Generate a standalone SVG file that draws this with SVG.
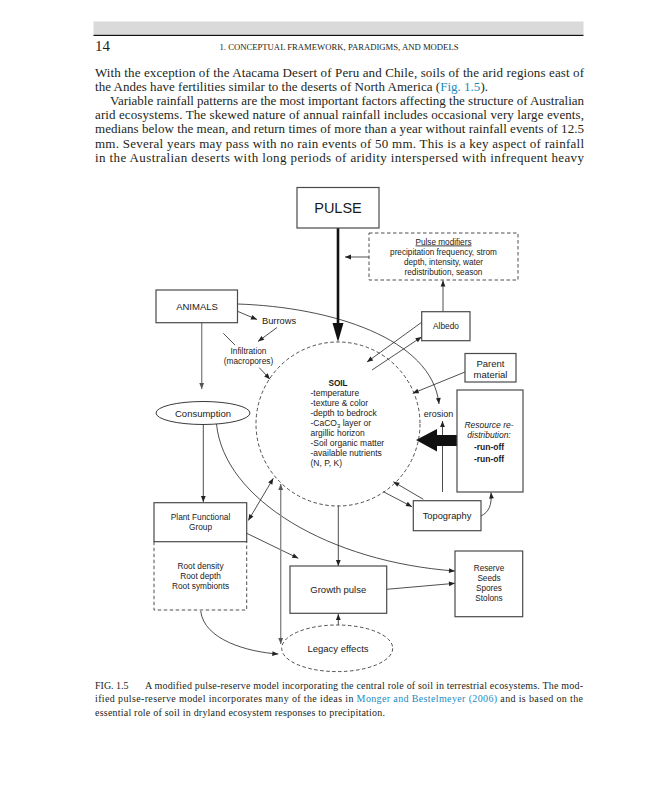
<svg xmlns="http://www.w3.org/2000/svg" width="647" height="800" viewBox="0 0 647 800">
<style>
.serif{font-family:"Liberation Serif","Times New Roman",serif;fill:#231f20}
.link{fill:#1b8bbf}
.t{font-family:"Liberation Sans",Arial,sans-serif;fill:#1a1a1a;text-anchor:middle}
.box{fill:#fff;stroke:#4a4a4a;stroke-width:1.2}
.dash{fill:none;stroke:#3a3a3a;stroke-width:0.9;stroke-dasharray:3.5 2.5}
.ln{fill:none;stroke:#222;stroke-width:0.8}
.gl{fill:none;stroke:#8a8a8a;stroke-width:1.4}
</style>
<defs>
<marker id="ah" viewBox="0 0 10 10" refX="10" refY="5" markerWidth="7" markerHeight="6" orient="auto-start-reverse" markerUnits="userSpaceOnUse"><path d="M0,1 L10,5 L0,9 z" fill="#222"/></marker>
<marker id="ahg" viewBox="0 0 10 10" refX="10" refY="5" markerWidth="7" markerHeight="6" orient="auto-start-reverse" markerUnits="userSpaceOnUse"><path d="M0,1 L10,5 L0,9 z" fill="#555"/></marker>
</defs>
<rect width="647" height="800" fill="#fff"/>

<!-- page header -->
<g id="header">
<rect x="93.5" y="21.5" width="490" height="13" fill="#dadada"/>
<line x1="93.5" y1="35.3" x2="583.5" y2="35.3" stroke="#111" stroke-width="1.3"/>
<text class="serif" x="95" y="51" font-size="15">14</text>
<text class="serif" x="219.5" y="50" font-size="8.5" textLength="239" lengthAdjust="spacingAndGlyphs">1. CONCEPTUAL FRAMEWORK, PARADIGMS, AND MODELS</text>
</g>

<g id="body-text" font-size="13">
<text class="serif" x="95" y="76.5" textLength="489" lengthAdjust="spacing">With the exception of the Atacama Desert of Peru and Chile, soils of the arid regions east of</text>
<text class="serif" x="95" y="90.7" textLength="393" lengthAdjust="spacing">the Andes have fertilities similar to the deserts of North America (<tspan class="link">Fig. 1.5</tspan>).</text>
<text class="serif" x="110" y="104.9" textLength="474" lengthAdjust="spacing">Variable rainfall patterns are the most important factors affecting the structure of Australian</text>
<text class="serif" x="95" y="119.1" textLength="489" lengthAdjust="spacing">arid ecosystems. The skewed nature of annual rainfall includes occasional very large events,</text>
<text class="serif" x="95" y="133.3" textLength="489" lengthAdjust="spacing">medians below the mean, and return times of more than a year without rainfall events of 12.5</text>
<text class="serif" x="95" y="147.5" textLength="489" lengthAdjust="spacing">mm. Several years may pass with no rain events of 50 mm. This is a key aspect of rainfall</text>
<text class="serif" x="95" y="161.7" textLength="489" lengthAdjust="spacing">in the Australian deserts with long periods of aridity interspersed with infrequent heavy</text>
</g>

<!-- connectors -->
<g id="connectors">
<line x1="338" y1="228" x2="338" y2="325" stroke="#111" stroke-width="2.6"/>
<polygon points="332.5,323 343.5,323 338,342" fill="#111"/>
<line class="ln" x1="369" y1="257" x2="345" y2="257" marker-end="url(#ah)"/>
<line class="ln" x1="443" y1="311.5" x2="443" y2="280.5" marker-end="url(#ah)"/>
<line class="ln" x1="422" y1="322" x2="367" y2="362" marker-end="url(#ah)"/>
<line class="ln" x1="372" y1="370" x2="421.5" y2="337" marker-end="url(#ah)"/>
<line class="ln" x1="465" y1="372" x2="412.7" y2="393.3" marker-end="url(#ah)"/>
<path class="ln" d="M237.5,304 C330,307 432,338 439,404" marker-end="url(#ah)"/>
<line class="ln" x1="238" y1="311.5" x2="257" y2="319.5" marker-end="url(#ah)"/>
<line class="ln" x1="277" y1="327.5" x2="258" y2="341.5" marker-end="url(#ah)"/>
<line class="ln" x1="223.3" y1="333.3" x2="235" y2="345"/>
<line class="ln" x1="259.3" y1="367.7" x2="270" y2="379.3" marker-end="url(#ah)"/>
<line class="gl" x1="201.7" y1="322.7" x2="201.7" y2="389" stroke="#666" marker-end="url(#ahg)"/>
<line class="ln" x1="203.3" y1="424.5" x2="203.3" y2="502" marker-end="url(#ah)"/>
<path class="ln" d="M216.5,424 C224,500 330,562 455,571" marker-end="url(#ah)"/>
<line class="ln" x1="248.3" y1="520.5" x2="273.3" y2="478.3" marker-start="url(#ah)" marker-end="url(#ah)"/>
<line class="ln" x1="246.7" y1="533.3" x2="298.3" y2="558.3" marker-end="url(#ah)"/>
<line class="gl" x1="280.7" y1="484" x2="280.7" y2="644" marker-start="url(#ahg)" marker-end="url(#ahg)"/>
<path class="ln" d="M200.7,611 C204,640 248,652 278.3,654" marker-end="url(#ah)"/>
<line class="ln" x1="338.3" y1="505.5" x2="338.3" y2="566" marker-end="url(#ah)"/>
<line class="ln" x1="386.7" y1="589.3" x2="455" y2="583.3" marker-end="url(#ah)"/>
<line class="ln" x1="338.3" y1="625" x2="338.3" y2="614" marker-end="url(#ah)"/>
<line class="ln" x1="442.5" y1="492" x2="442.5" y2="421" marker-end="url(#ah)"/>
<line class="ln" x1="423.3" y1="499.3" x2="393.3" y2="481.7" marker-end="url(#ah)"/>
<line class="ln" x1="383.3" y1="491.7" x2="412" y2="506.7" marker-end="url(#ah)"/>
<path class="ln" d="M481,516 C489,512 492,505 491,492.5" marker-end="url(#ah)"/>
<polygon points="416,440 437,429 437,435 457,435 457,446 437,446 437,451.5" fill="#111"/>
</g>

<g id="pulse">
<rect class="box" x="297" y="187.5" width="82" height="40.5"/>
<text class="t" x="338" y="213" font-size="14.5">PULSE</text>
</g>

<g id="pulse-modifiers">
<rect class="dash" x="369" y="233" width="149" height="47"/>
<text class="t" x="443.5" y="244.5" font-size="8.2" text-decoration="underline">Pulse modifiers</text>
<text class="t" x="443.5" y="255" font-size="8.2">precipitation frequency, strom</text>
<text class="t" x="443.5" y="265" font-size="8.2">depth, intensity, water</text>
<text class="t" x="443.5" y="275" font-size="8.2">redistribution, season</text>
</g>

<g id="animals">
<rect class="box" x="156" y="290" width="81.5" height="32.7"/>
<text class="t" x="197" y="309.5" font-size="9.5">ANIMALS</text>
</g>

<g id="burrows">
<text class="t" x="279" y="323.5" font-size="9.3">Burrows</text>
</g>

<g id="infiltration">
<text class="t" x="248.5" y="354" font-size="8.3">Infiltration</text>
<text class="t" x="248.5" y="364" font-size="8.3">(macropores)</text>
</g>

<g id="albedo">
<rect class="box" x="421.7" y="311.7" width="48.3" height="29"/>
<text class="t" x="446" y="329" font-size="8.3">Albedo</text>
</g>

<g id="parent-material">
<rect class="box" x="465" y="353.5" width="51" height="28.5"/>
<text class="t" x="490.5" y="367" font-size="9.5">Parent</text>
<text class="t" x="490.5" y="378" font-size="9.5">material</text>
</g>

<g id="soil">
<circle class="dash" cx="338" cy="424" r="82"/>
<text class="t" x="338" y="386" font-size="8.2" font-weight="bold">SOIL</text>
<g font-size="8.5">
<text class="t" x="310.5" y="396.3" style="text-anchor:start">-temperature</text>
<text class="t" x="310.5" y="406.3" style="text-anchor:start">-texture &amp; color</text>
<text class="t" x="310.5" y="416.3" style="text-anchor:start">-depth to bedrock</text>
<text class="t" x="310.5" y="426.3" style="text-anchor:start">-CaCO<tspan font-size="6" dy="2">3</tspan><tspan dy="-2"> layer or</tspan></text>
<text class="t" x="310.5" y="436.3" style="text-anchor:start">argillic horizon</text>
<text class="t" x="310.5" y="446.3" style="text-anchor:start">-Soil organic matter</text>
<text class="t" x="310.5" y="456.3" style="text-anchor:start">-available nutrients</text>
<text class="t" x="310.5" y="466.3" style="text-anchor:start">(N, P, K)</text>
</g>
</g>

<g id="erosion">
<text class="t" x="438.5" y="416.5" font-size="9">erosion</text>
</g>

<g id="resource">
<rect class="box" x="457" y="390" width="66" height="102"/>
<text class="t" x="489" y="428" font-size="8.5" font-style="italic">Resource re-</text>
<text class="t" x="489" y="438" font-size="8.5" font-style="italic">distribution:</text>
<text class="t" x="489" y="450" font-size="8.5" font-weight="bold">-run-off</text>
<text class="t" x="489" y="462" font-size="8.5" font-weight="bold">-run-off</text>
</g>

<g id="consumption">
<ellipse cx="203" cy="413" rx="47" ry="11.5" fill="#fff" stroke="#3a3a3a" stroke-width="1"/>
<text class="t" x="203" y="416.5" font-size="9.5">Consumption</text>
</g>

<g id="topography">
<rect class="box" x="413.3" y="500.7" width="67.7" height="30"/>
<text class="t" x="447" y="519" font-size="9.3">Topography</text>
</g>

<g id="plant-functional-group">
<rect class="box" x="154" y="502.7" width="92.7" height="39"/>
<text class="t" x="200.5" y="519.5" font-size="8.3">Plant Functional</text>
<text class="t" x="200.5" y="529.5" font-size="8.3">Group</text>
</g>

<g id="root">
<path class="dash" d="M154,541.7 V610 H246.7 V541.7"/>
<text class="t" x="200.5" y="569" font-size="8.3">Root density</text>
<text class="t" x="200.5" y="579" font-size="8.3">Root depth</text>
<text class="t" x="200.5" y="589" font-size="8.3">Root symbionts</text>
</g>

<g id="growth-pulse">
<rect class="box" x="290" y="566" width="96.7" height="47.3"/>
<text class="t" x="338.3" y="593" font-size="9.5">Growth pulse</text>
</g>

<g id="reserve">
<rect class="box" x="455" y="551" width="67.7" height="65.7"/>
<text class="t" x="489" y="571" font-size="8.2">Reserve</text>
<text class="t" x="489" y="581" font-size="8.2">Seeds</text>
<text class="t" x="489" y="591" font-size="8.2">Spores</text>
<text class="t" x="489" y="601" font-size="8.2">Stolons</text>
</g>

<g id="legacy-effects">
<ellipse class="dash" cx="337.2" cy="648.3" rx="55.5" ry="23.3"/>
<text class="t" x="338" y="651.5" font-size="9.5">Legacy effects</text>
</g>

<g id="caption" font-size="10">
<text class="serif" x="95" y="689">FIG. 1.5</text>
<text class="serif" x="145" y="689" textLength="438" lengthAdjust="spacing">A modified pulse-reserve model incorporating the central role of soil in terrestrial ecosystems. The mod-</text>
<text class="serif" x="95" y="702.3" textLength="488" lengthAdjust="spacing">ified pulse-reserve model incorporates many of the ideas in <tspan class="link">Monger and Bestelmeyer (2006)</tspan> and is based on the</text>
<text class="serif" x="95" y="715.5" textLength="290" lengthAdjust="spacing">essential role of soil in dryland ecosystem responses to precipitation.</text>
</g>
</svg>
